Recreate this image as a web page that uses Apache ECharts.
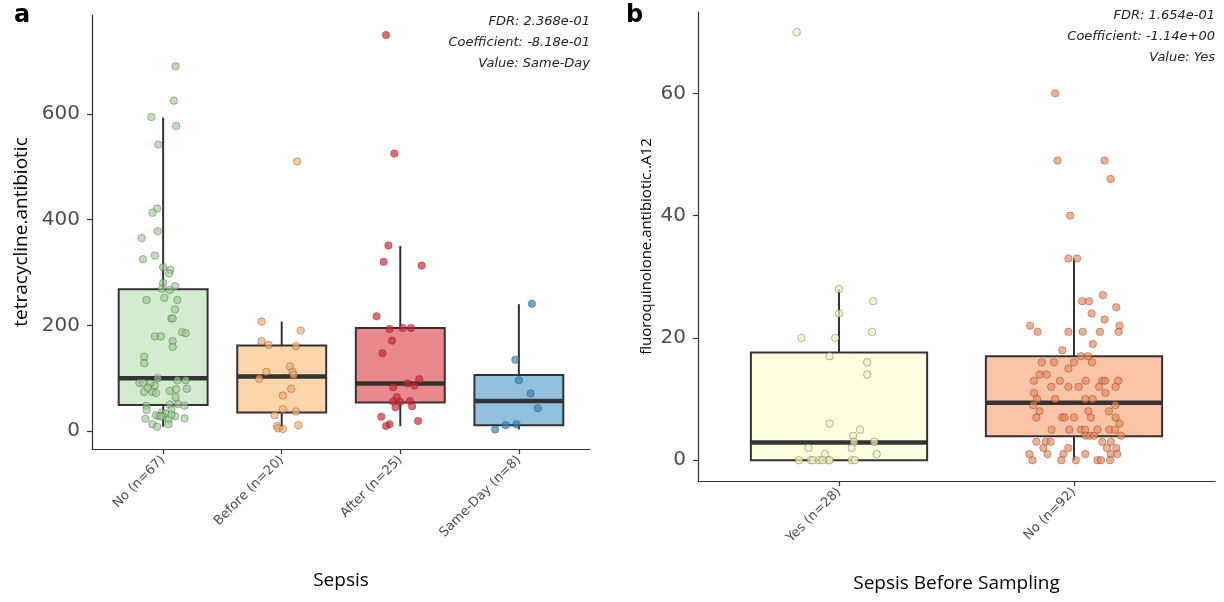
<!DOCTYPE html>
<html>
<head>
<meta charset="utf-8">
<script src="https://cdn.jsdelivr.net/npm/echarts@6/dist/echarts.min.js"></script>
<style>
  html, body { margin: 0; padding: 0; background: #fff; }
  #chart { width: 1224px; height: 602px; }
</style>
</head>
<body>
<div id="chart"></div>
<script>
// ---- panel a: tetracycline.antibiotic by Sepsis ----
const catsA = ['No (n=67)', 'Before (n=20)', 'After (n=25)', 'Same-Day (n=8)'];
// [lower whisker, Q1, median, Q3, upper whisker]
const boxA = [
  [8, 49, 100, 268, 593],
  [2, 35, 103, 162, 207],
  [9, 54, 90, 195, 350],
  [3, 11, 57, 106, 240]
];
const noA = [690,625,594,577,542,421,413,378,365,332,325,310,305,298,280,274,269,267,248,252,248,230,213,213,179,179,187,185,170,159,141,128,100,91,91,86,96,96,80,74,74,72,76,79,64,48,50,51,48,40,40,35,33,28,27,28,24,23,22,13,8,13,90,82,31,30,28];
const noJitA = [0.105,0.09,-0.10,0.11,-0.04,-0.05,-0.09,-0.045,-0.18,-0.07,-0.17,0,0.06,0.05,0,0.1,-0.01,0.055,-0.14,0.01,0.12,0.1,0.07,0.08,-0.07,-0.02,0.16,0.19,0.08,0.08,-0.16,-0.16,-0.045,-0.2,-0.17,-0.07,0.12,0.19,0.2,-0.16,-0.09,-0.06,0.055,0.11,0.105,-0.14,0.055,0.125,0.18,-0.14,0.07,-0.01,0.02,-0.04,0,0.1,0.18,-0.15,0.045,-0.09,-0.05,0.045,-0.11,-0.13,0.07,-0.06,-0.02];
const beforeA = [510,207,190,170,163,161,122,112,112,106,99,80,67,41,37,30,9.5,5,4,11];
const beforeJitA = [0.13,-0.17,0.16,-0.17,-0.11,0.12,0.07,-0.13,0.09,0.1,-0.19,0.08,0.01,0.01,0.12,-0.06,-0.04,-0.03,0.01,0.14];
const afterA = [749,525,351,320,313,217,193,195,195,171,147,98,90,86,83,64,56,55,57,45,47,27,19,13,9.5];
const afterJitA = [-0.12,-0.05,-0.1,-0.14,0.18,-0.2,-0.09,0.02,0.09,-0.07,-0.15,0.16,0.06,0.12,-0.06,-0.03,-0.06,0,0.08,-0.04,0.1,-0.16,0.15,-0.09,-0.12];
const sameDayA = [241,135,96,71,43,11,13,3];
const sameDayJitA = [0.11,-0.03,0,0.1,0.16,-0.11,-0.02,-0.2];
const ticksA = [0, 200, 400, 600];

// ---- panel b: fluoroquinolone.antibiotic..A12 by Sepsis Before Sampling ----
const catsB = ['Yes (n=28)', 'No (n=92)'];
const boxB = [
  [0, 0, 2.9, 17.6, 28],
  [0, 3.9, 9.4, 17.0, 33]
];
const yesB = [70,28,26,24,21,20,20,17,16,14,6,5,4,3,3,2,2,1,1,0,0,0,0,0,0,0,0,0];
const yesJitB = [-0.18,0,0.145,0,0.14,-0.16,-0.016,-0.04,0.12,0.12,-0.04,0.09,0.06,0.064,0.15,-0.13,0.054,-0.06,0.16,-0.17,-0.12,-0.11,-0.085,-0.045,-0.04,0.054,0.068,-0.07];
const noB = [60,49,49,46,40,33,33,27,26,26,25,24,23,22,22,21,21,21,21,21,19,18,17,17,16,16,16,16,15,14,14,13,13,13,13,13,13,12,12,12,12,11,11,10,10,10,9,9,8,8,8,7,7,7,7,7,7,6,5,5,5,5,5,5,4,4,4,4,3,3,3,3,2,2,2,2,1,1,1,1,1,1,0,0,0,0,0,0,3,12,10,5];
const noJitB = [-0.08,-0.07,0.13,0.156,-0.016,-0.024,0.013,0.123,0.035,0.064,0.18,0.075,0.13,-0.187,0.194,-0.155,-0.024,0.037,0.11,0.19,0.08,-0.05,0.03,0.06,-0.137,-0.085,0,0.076,-0.024,-0.146,-0.116,-0.17,-0.06,0.05,0.12,0.132,0.188,-0.097,-0.024,0.107,0.177,-0.17,0.134,-0.157,0.048,0.079,-0.173,0.176,-0.147,0.061,0.149,-0.16,-0.05,-0.04,0,0.072,0.177,0.194,-0.095,-0.02,0.03,0.047,0.15,0.175,0.2,0.05,0.068,0.086,-0.16,-0.12,0.12,0.157,-0.13,-0.024,0.14,0.18,-0.19,-0.113,-0.045,0.048,0.157,0.184,-0.177,-0.054,0.008,0.1,0.115,0.153,-0.1,0.02,-0.08,0.1];
const ticksB = [0, 20, 40, 60];

const fillsA = ['#d3ebcf', '#fdd5aa', '#e9898d', '#91c0de'];
const dotsA = ['rgba(150,205,140,0.8)', 'rgba(253,170,100,0.85)', 'rgba(215,35,45,0.85)', 'rgba(45,130,190,0.85)'];
const fillsB = ['#fdfde0', '#fcc4a7'];
const dotsB = ['rgba(240,240,185,0.9)', 'rgba(244,135,85,0.85)'];

const font = 'DejaVu Sans';
const titleFont = 'Open Sans';
const chart = echarts.init(document.getElementById('chart'));

// box + whiskers, drawn like ggplot's geom_boxplot
function renderBox(fills) {
  return function (params, api) {
    const x = api.value(0);
    const half = api.size([0.75, 0])[0] / 2;
    const pMin = api.coord([x, api.value(1)]);
    const pQ1 = api.coord([x, api.value(2)]);
    const pMed = api.coord([x, api.value(3)]);
    const pQ3 = api.coord([x, api.value(4)]);
    const pMax = api.coord([x, api.value(5)]);
    const cx = pQ1[0];
    const ln = { stroke: '#333', lineWidth: 2 };
    return {
      type: 'group',
      children: [
        { type: 'line', shape: { x1: cx, y1: pQ3[1], x2: cx, y2: pMax[1] }, style: ln },
        { type: 'line', shape: { x1: cx, y1: pMin[1], x2: cx, y2: pQ1[1] }, style: ln },
        { type: 'rect', shape: { x: cx - half, y: pQ3[1], width: half * 2, height: pQ1[1] - pQ3[1] },
          style: { fill: fills[params.dataIndex], stroke: '#333', lineWidth: 2 } },
        { type: 'line', shape: { x1: cx - half, y1: pMed[1], x2: cx + half, y2: pMed[1] },
          style: { stroke: '#333', lineWidth: 4.5 } }
      ]
    };
  };
}

function dots(vals, jit, cat, color, axis) {
  return {
    type: 'scatter',
    xAxisIndex: axis, yAxisIndex: axis,
    symbolSize: 7.5,
    z: 5,
    itemStyle: { color: color, borderColor: 'rgba(50,50,50,0.6)', borderWidth: 0.7 },
    data: vals.map((v, k) => [cat + jit[k], v])
  };
}

function xAxisOf(grid, cats, min, max, name, gap) {
  const vals = cats.map((c, i) => i + 1);
  return {
    gridIndex: grid, type: 'value', min: min, max: max,
    splitLine: { show: false },
    axisLine: { onZero: false, lineStyle: { color: '#333', width: 1.2 } },
    axisTick: { customValues: vals, length: 5, lineStyle: { color: '#333', width: 1.2 } },
    axisLabel: {
      customValues: vals, rotate: 45, margin: 9,
      formatter: v => cats[Math.round(v) - 1],
      color: '#4d4d4d', fontSize: 13, fontFamily: font
    },
    name: name, nameLocation: 'middle', nameGap: gap,
    nameTextStyle: { color: '#000', fontSize: 19, fontFamily: titleFont }
  };
}

function yAxisOf(grid, ticks, min, max, name, gap, nameSize) {
  return {
    gridIndex: grid, type: 'value', min: min, max: max,
    splitLine: { show: false },
    axisLine: { show: true, onZero: false, lineStyle: { color: '#333', width: 1.2 } },
    axisTick: { show: true, customValues: ticks, length: 5, lineStyle: { color: '#333', width: 1.2 } },
    axisLabel: { customValues: ticks, margin: 12, color: '#4d4d4d', fontSize: 20, fontFamily: font },
    name: name, nameLocation: 'middle', nameRotate: 90, nameGap: gap,
    nameTextStyle: { color: '#000', fontSize: nameSize, fontFamily: titleFont }
  };
}

function note(lines, right, top) {
  return lines.map((t, i) => ({
    type: 'text', x: right, y: top + i * 21,
    style: { text: t, textAlign: 'right', textVerticalAlign: 'middle',
             font: 'italic 13px "' + font + '"', fill: '#222' }
  }));
}

const option = {
  animation: false,
  backgroundColor: '#fff',
  grid: [
    { left: 92, top: 15, width: 498, height: 434 },
    { left: 698, top: 12, width: 517, height: 469 }
  ],
  xAxis: [
    xAxisOf(0, catsA, 0.4, 4.6, 'Sepsis', 122),
    xAxisOf(1, catsB, 0.4, 2.6, 'Sepsis Before Sampling', 93)
  ],
  yAxis: [
    yAxisOf(0, ticksA, -34, 787, 'tetracycline.antibiotic', 61, 19),
    yAxisOf(1, ticksB, -3.4, 73.3, 'fluoroquinolone.antibiotic..A12', 44, 15)
  ],
  graphic: [
    { type: 'text', left: 14, top: 4, style: { text: 'a', font: 'bold 24px "' + font + '"', fill: '#000' } },
    { type: 'text', left: 626, top: 4, style: { text: 'b', font: 'bold 24px "' + font + '"', fill: '#000' } },
    ...note(['FDR: 2.368e-01', 'Coefficient: -8.18e-01', 'Value: Same-Day'], 590, 22),
    ...note(['FDR: 1.654e-01', 'Coefficient: -1.14e+00', 'Value: Yes'], 1215, 16)
  ],
  series: [
    {
      type: 'custom', xAxisIndex: 0, yAxisIndex: 0,
      renderItem: renderBox(fillsA),
      encode: { x: 0, y: [1, 2, 3, 4, 5] },
      data: boxA.map((b, i) => [i + 1, ...b])
    },
    {
      type: 'custom', xAxisIndex: 1, yAxisIndex: 1,
      renderItem: renderBox(fillsB),
      encode: { x: 0, y: [1, 2, 3, 4, 5] },
      data: boxB.map((b, i) => [i + 1, ...b])
    },
    dots(noA, noJitA, 1, dotsA[0], 0),
    dots(beforeA, beforeJitA, 2, dotsA[1], 0),
    dots(afterA, afterJitA, 3, dotsA[2], 0),
    dots(sameDayA, sameDayJitA, 4, dotsA[3], 0),
    dots(yesB, yesJitB, 1, dotsB[0], 1),
    dots(noB, noJitB, 2, dotsB[1], 1)
  ]
};

chart.setOption(option);
window.addEventListener('resize', () => chart.resize());
</script>
</body>
</html>
